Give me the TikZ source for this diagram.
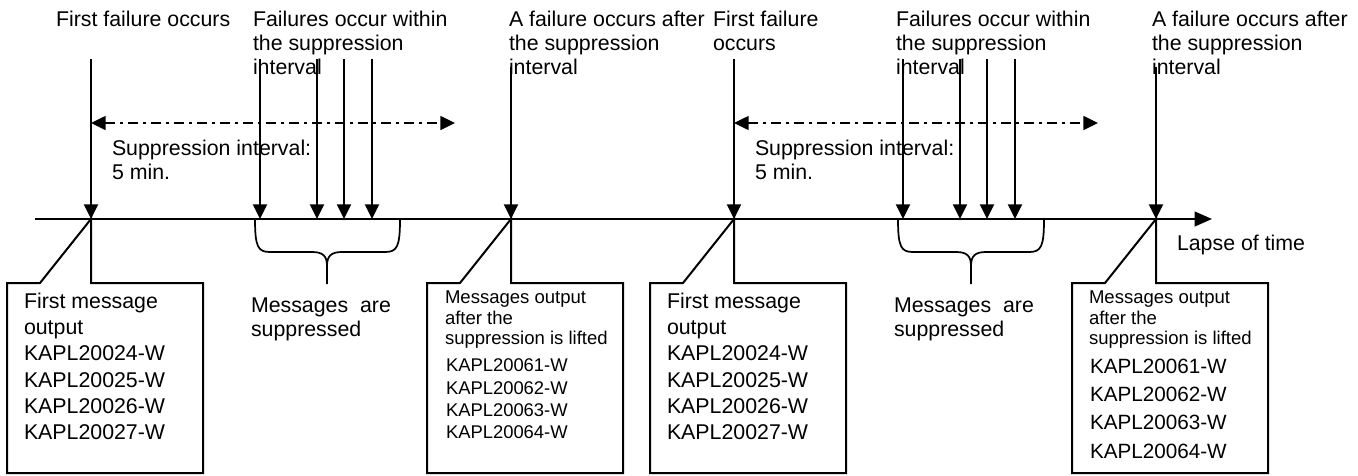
\documentclass[tikz,border=0pt]{standalone}
\usepackage{fontspec}
\setmainfont{Liberation Sans}
\usetikzlibrary{arrows.meta}

\begin{document}
\begin{tikzpicture}[
            x = 0.75pt, y = -0.75pt, % pixel grid, y pointing down
            > = {Triangle[width=10.5pt,length=11pt]}, % arrow head style
            line width = 1.5pt % line style
        ]

        \tikzstyle{toptext}=[anchor=north west, inner sep=0pt, align=left,
            font=\fontsize{16}{18.2}\selectfont]
        \tikzstyle{boxtext}=[anchor=north west, inner sep=0pt, align=left,
            font=\fontsize{16}{19.65}\selectfont]
        \tikzstyle{boxhead}=[anchor=north west, inner sep=0pt, align=left,
            font=\fontsize{13.9}{15.4}\selectfont]
        \tikzstyle{boxcode}=[anchor=north west, inner sep=0pt, align=left,
            font=\fontsize{13.8}{16.75}\selectfont]
        \tikzstyle{fail}=[->]
        \tikzstyle{interval}=[<->, line width=1.1pt,
            dash pattern=on 7.5pt off 3.75pt on 2.25pt off 3.75pt]
        \tikzstyle{callout}=[fill=white, line width=1.5pt]
        \tikzstyle{brace}=[line width=1.3pt]

        \useasboundingbox (0,0) rectangle (1358,475);

	% time axis
        \coordinate (T0) at (35,219);
        \coordinate (T1) at (1212,219);
        \draw[-{Triangle[width=11pt,length=13pt]}] (T0) -- (T1);
        \node[toptext] (lapse) at (1176,234) {Lapse of time};

        % failures
        \foreach \n/\x/\y in {A/91/59, B/260/59, C/317/59, D/344/59, E/372/59, F/511/67,
                              G/734/59, H/903/59, I/960/59, J/987/59, K/1015/59, L/1156/67}
        {
            \coordinate (top\n) at (\x,\y);
            \coordinate (hit\n) at (\x,219);
            \draw[fail] (top\n) -- (hit\n);
        }

        \node[toptext] (first1) at (55,10) {First failure occurs};
        \node[toptext] (within1) at (252,10) {Failures occur within\\the suppression\\interval};
        \node[toptext] (after1) at (508,10) {A failure occurs after\\the suppression\\interval};
        \node[toptext] (first2) at (712,10) {First failure\\occurs};
        \node[toptext] (within2) at (895,10) {Failures occur within\\the suppression\\interval};
        \node[toptext] (after2) at (1151,10) {A failure occurs after\\the suppression\\interval};

        % suppression interval
        \coordinate (I1a) at (91,123);
        \coordinate (I1b) at (455,123);
        \coordinate (I2a) at (734,123);
        \coordinate (I2b) at (1098,123);
        \draw[interval] (I1a) -- (I1b);
        \draw[interval] (I2a) -- (I2b);
        \node[toptext] (int1) at (111,139) {Suppression interval:\\5 min.};
        \node[toptext] (int2) at (754,139) {Suppression interval:\\5 min.};

        % suppressed messages
        \draw[brace] (255,219) .. controls (255,247) and (258,252) .. (270,252) -- (312,252)
            .. controls (323,252) and (327,256) .. (327,266) -- (327,284);
        \draw[brace] (400,219) .. controls (400,247) and (397,252) .. (385,252) -- (342,252)
            .. controls (331,252) and (327,256) .. (327,266);
        \draw[brace] (898,219) .. controls (898,247) and (901,252) .. (913,252) -- (956,252)
            .. controls (967,252) and (971,256) .. (971,266) -- (971,284);
        \draw[brace] (1044,219) .. controls (1044,247) and (1041,252) .. (1029,252) -- (986,252)
            .. controls (975,252) and (971,256) .. (971,266);
        \node[toptext] (supp1) at (250,297) {Messages\ \ are\\suppressed};
        \node[toptext] (supp2) at (893,297) {Messages\ \ are\\suppressed};

        % message boxes
        \draw[callout] (hitA) -- ++(-51,64) -- ++(-33,0) -- ++(0,190) -- ++(196,0)
            -- ++(0,-190) -- ++(-112,0) -- cycle;
        \draw[callout] (hitF) -- ++(-51,64) -- ++(-33,0) -- ++(0,190) -- ++(196,0)
            -- ++(0,-190) -- ++(-112,0) -- cycle;
        \draw[callout] (hitG) -- ++(-51,64) -- ++(-33,0) -- ++(0,190) -- ++(196,0)
            -- ++(0,-190) -- ++(-112,0) -- cycle;
        \draw[callout] (hitL) -- ++(-51,64) -- ++(-33,0) -- ++(0,190) -- ++(196,0)
            -- ++(0,-190) -- ++(-112,0) -- cycle;

        \node[boxtext] (msg1) at (23,292)
            {First message\\output\\KAPL20024-W\\KAPL20025-W\\KAPL20026-W\\KAPL20027-W};
        \node[boxhead] (lift1) at (444,290) {Messages output\\after the\\suppression is lifted};
        \node[boxcode] (code1) at (445,358) {KAPL20061-W\\KAPL20062-W\\KAPL20063-W\\KAPL20064-W};
        \node[boxtext] (msg2) at (666,292)
            {First message\\output\\KAPL20024-W\\KAPL20025-W\\KAPL20026-W\\KAPL20027-W};
        \node[boxhead] (lift2) at (1088,290) {Messages output\\after the\\suppression is lifted};
        \node[boxtext, font=\fontsize{15.5}{21.2}\selectfont] (code2) at (1089,358)
            {KAPL20061-W\\KAPL20062-W\\KAPL20063-W\\KAPL20064-W};

\end{tikzpicture}
\end{document}
